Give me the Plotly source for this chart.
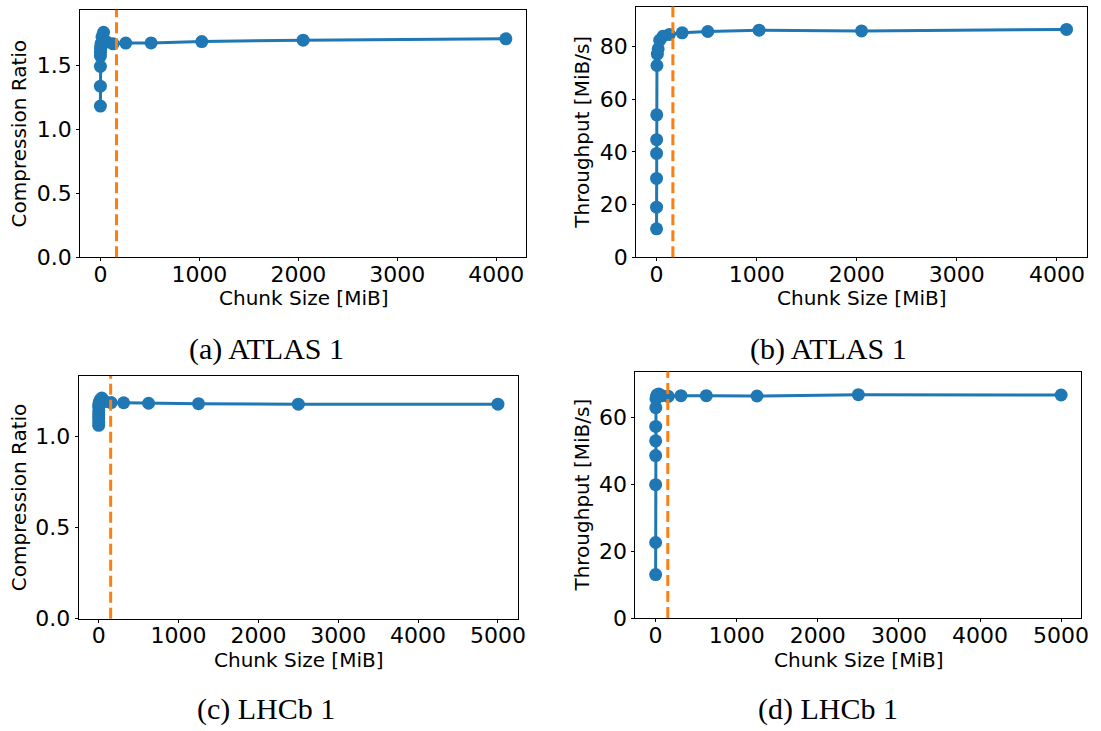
import plotly.graph_objects as go

# ---- data ----
atlas_chunk = [0.0625, 0.125, 0.25, 0.5, 1, 2, 4, 8, 16, 32, 64, 128, 256, 512, 1024, 2048, 4096]
atlas_ratio = [1.18, 1.335, 1.49, 1.57, 1.60, 1.63, 1.65, 1.67, 1.72, 1.755, 1.68, 1.665, 1.671, 1.672, 1.683, 1.694, 1.704]
atlas_tput = [10.8, 19.0, 29.9, 39.4, 44.6, 54.0, 72.7, 77.0, 79.0, 82.3, 83.8, 84.5, 85.1, 85.6, 86.1, 85.8, 86.4]

lhcb_chunk = [0.038, 0.076, 0.153, 0.305, 0.61, 1.22, 2.44, 4.88, 9.77, 19.53, 39.06, 78.125,
              156.25, 312.5, 625, 1250, 2500, 5000]
lhcb_ratio = [1.06, 1.08, 1.10, 1.12, 1.14, 1.16, 1.17, 1.18, 1.19, 1.20, 1.21, 1.19,
              1.185, 1.184, 1.181, 1.179, 1.176, 1.176]
lhcb_tput = [13.0, 22.6, 39.9, 48.6, 53.0, 57.3, 62.9, 65.5, 66.2, 66.8, 67.0, 66.5,
             66.3, 66.5, 66.5, 66.4, 66.8, 66.7]

atlas_marker = [163]
lhcb_marker = [150]

captions = ["(a) ATLAS 1", "(b) ATLAS 1", "(c) LHCb 1", "(d) LHCb 1"]
ylabels = ["Compression Ratio", "Throughput [MiB/s]", "Compression Ratio", "Throughput [MiB/s]"]
xlabel = "Chunk Size [MiB]"

W, H = 1101, 731
BLUE = "#1f77b4"
ORANGE = "#ff7f0e"

panels = [
    dict(x=atlas_chunk, y=atlas_ratio, v=atlas_marker[0], box=(80.7, 530, 10, 262), dt=0.5, fmt=".1f",
         ytx=19, xty=303),
    dict(x=atlas_chunk, y=atlas_tput, v=atlas_marker[0], box=(640.7, 1095, 6.7, 262), dt=20, fmt="d",
         ytx=586, xty=303),
    dict(x=lhcb_chunk, y=lhcb_ratio, v=lhcb_marker[0], box=(79.3, 521.7, 382.7, 630), dt=0.5, fmt=".1f",
         ytx=19, xty=672),
    dict(x=lhcb_chunk, y=lhcb_tput, v=lhcb_marker[0], box=(640, 1089.3, 378.3, 629.3), dt=20, fmt="d",
         ytx=586, xty=672),
]
cap_pos = [(268, 355), (835, 355), (268, 722), (834, 722)]

fig = go.Figure()
axfont = dict(family="DejaVu Sans", size=22, color="black")
titlefont = dict(family="DejaVu Sans", size=20, color="black")

for i, p in enumerate(panels):
    n = "" if i == 0 else str(i + 1)
    xa, ya = "x" + n, "y" + n
    l, r, t, b = p["box"]
    xmax = max(p["x"])
    ymax = max(p["y"])
    fig.add_trace(go.Scatter(
        x=p["x"], y=p["y"], xaxis=xa, yaxis=ya, mode="lines+markers",
        line=dict(color=BLUE, width=3), marker=dict(color=BLUE, size=13),
        showlegend=False))
    fig.add_shape(type="line", xref=xa, yref=ya + " domain", x0=p["v"], x1=p["v"], y0=0, y1=1,
                  line=dict(color=ORANGE, width=3, dash="11px,5px"))
    common = dict(showline=True, linecolor="black", linewidth=1, mirror=True,
                  ticks="outside", ticklen=3, tickwidth=1, tickcolor="black",
                  showgrid=False, zeroline=False, tickfont=axfont)
    fig.update_layout(**{
        ("xaxis" + n): dict(domain=[l / W, r / W], anchor=ya, ticklabelstandoff=-6,
                            range=[-0.05 * xmax, 1.05 * xmax], dtick=1000, tick0=0, **common),
        ("yaxis" + n): dict(domain=[1 - b / H, 1 - t / H], anchor=xa,
                            range=[0, 1.1 * ymax], dtick=p["dt"], tick0=0, tickformat=p["fmt"],
                            **common),
    })
    # axis titles
    fig.add_annotation(text=ylabels[i], xref="paper", yref="paper", x=p["ytx"] / W,
                       y=1 - (t + b) / 2 / H, textangle=-90, showarrow=False,
                       xanchor="center", yanchor="middle", font=titlefont)
    fig.add_annotation(text=xlabel, xref="paper", yref="paper", x=(l + r) / 2 / W,
                       y=1 - p["xty"] / H, showarrow=False,
                       xanchor="center", yanchor="middle", font=titlefont)
    cx, cy = cap_pos[i]
    fig.add_annotation(text=captions[i], xref="paper", yref="paper", x=cx / W, y=1 - cy / H,
                       showarrow=False, xanchor="center", yanchor="middle",
                       font=dict(family="Liberation Serif", size=30, color="black"))

fig.update_layout(width=W, height=H, margin=dict(l=0, r=0, t=0, b=0),
                  paper_bgcolor="white", plot_bgcolor="white")
fig.write_html("out.html")
